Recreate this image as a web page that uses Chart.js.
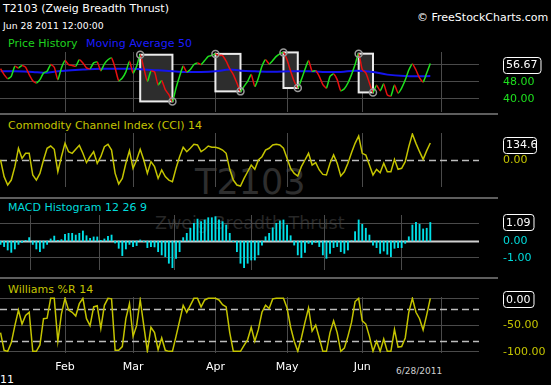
<!DOCTYPE html>
<html><head><meta charset="utf-8">
<script src="https://cdn.jsdelivr.net/npm/chart.js@4.4.0/dist/chart.umd.min.js"></script>
<style>
html,body{margin:0;padding:0;background:#000;width:551px;height:385px;overflow:hidden;}
body{position:relative;font-family:"DejaVu Sans",sans-serif;}
.t{position:absolute;white-space:nowrap;line-height:1;}
canvas{position:absolute;left:0;display:block;z-index:1;}
.sep{position:absolute;left:0;width:498px;height:2px;background:#5e5e5e;z-index:1;}
.wm{position:absolute;white-space:nowrap;line-height:1;z-index:0;}
</style></head><body>

<div class="wm" style="left:195px;top:165px;font-size:35px;color:#2e2e2e;">T2103</div>
<div class="wm" style="left:155px;top:215px;font-size:17.5px;color:#272727;">Zweig Breadth Thrust</div>

<div class="t" style="left:3px;top:3px;font-size:11px;color:#fff;">T2103 (Zweig Breadth Thrust)</div>
<div class="t" style="left:3px;top:20.5px;font-size:9.3px;color:#fff;">Jun 28 2011 12:00:00</div>
<div class="t" style="left:417px;top:11.7px;font-size:11px;color:#fff;">© FreeStockCharts.com</div>
<div class="t" style="left:8px;top:38px;font-size:11px;color:#1fd21f;">Price History</div>
<div class="t" style="left:86px;top:38px;font-size:11px;color:#1c1cff;">Moving Average 50</div>
<div class="t" style="left:8px;top:119.7px;font-size:11px;color:#c4c400;">Commodity Channel Index (CCI) 14</div>
<div class="t" style="left:8px;top:202.2px;font-size:11px;color:#00dcdc;">MACD Histogram 12 26 9</div>
<div class="t" style="left:8px;top:283.7px;font-size:11px;color:#c4c400;">Williams %R 14</div>
<div class="t" style="left:396px;top:367.4px;font-size:9px;color:#cfcfcf;">6/28/2011</div>
<div class="t" style="left:0px;top:373.5px;font-size:11px;color:#fff;">11</div>

<div class="sep" style="top:113px;"></div>
<div class="sep" style="top:197px;"></div>
<div class="sep" style="top:277px;"></div>

<canvas id="cPrice" width="551" height="74" style="top:44px"></canvas>
<canvas id="cCci" width="551" height="72" style="top:126px"></canvas>
<canvas id="cMacd" width="551" height="76" style="top:200px"></canvas>
<canvas id="cWill" width="551" height="100" style="top:282px"></canvas>

<script>
// ---- data (trading-day index: 0 = Jan 3 2011) ----
const firstDay = 2;
const monthStarts = [20, 39, 62, 82, 103, 125];
const monthLabels = ['Feb', 'Mar', 'Apr', 'May', 'Jun', ''];

const priceValues = [
  54.2,51.4,49.5,50.6,55.4,54.6,55.8,54.9,51.4,48.5,
  47.4,49.0,52.2,53.0,56.2,54.9,49.0,54.6,58.1,56.2,
  55.8,55.4,58.5,57.0,54.6,54.2,57.0,57.4,53.3,56.5,
  58.5,59.3,54.6,48.5,49.8,52.7,57.8,52.2,55.4,60.9,
  54.6,48.2,53.0,52.7,46.6,48.5,44.2,41.8,38.6,45.0,
  50.6,55.4,52.7,53.8,56.2,57.0,56.2,58.1,60.1,60.6,
  61.3,60.6,60.5,57.8,54.2,51.4,47.4,43.4,45.8,48.2,
  51.4,45.8,49.8,55.4,58.5,56.5,58.1,60.1,61.3,62.0,
  58.5,53.0,48.2,45.0,49.0,53.8,58.1,53.0,53.3,50.6,
  46.6,45.0,50.6,51.7,49.0,43.7,44.7,47.4,51.4,56.2,
  61.4,53.8,52.2,47.4,42.9,46.3,43.7,46.9,41.7,41.2,
  46.4,42.6,45.0,48.8,53.6,56.5,53.6,49.8,47.9,52.2,
  56.67
];
const maDays   = [2,6,11,14,17,20,25,30,35,39,44,48,53,58,62,66,69,73,78,83,88,92,97,101,106,110,115,119,122];
const maValues = [53.0,53.0,52.7,52.3,52.8,53.3,53.8,54.2,54.2,54.2,53.6,53.3,52.7,52.7,53.0,53.8,53.3,53.0,52.8,53.0,53.0,52.7,52.7,53.3,52.7,51.4,50.7,50.6,50.7];
const boxStarts = [41, 62, 81, 102];
const boxEnds   = [50, 69, 85, 106];

const cciValues = [
  0,-132,-198,-159,-53,93,13,53,53,-119,
  -159,-106,0,93,111,85,-93,26,132,66,
  53,85,116,53,-21,26,66,-26,26,106,
  124,79,-106,-190,-146,-26,74,-66,0,85,
  0,-106,-13,-53,-146,-79,-132,-159,-172,-66,
  26,101,66,93,124,119,66,85,111,101,
  101,93,79,53,-74,-159,-198,-206,-146,-93,
  -40,-74,0,26,79,93,119,124,119,93,
  13,-66,-106,-127,-53,0,53,-40,-21,-79,
  -114,-119,-26,40,-26,-127,-93,-26,58,132,
  190,53,40,-40,-119,-74,-101,-26,-93,-93,
  5,-74,-66,-13,106,206,132,66,5,74,
  134.67
];

const macdValues = [
  -0.2,-0.33,-0.53,-0.67,-0.47,-0.2,-0.08,0.04,0.2,-0.2,
  -0.47,-0.63,-0.43,-0.2,0.12,0.29,0.04,0.08,0.39,0.45,
  0.45,0.35,0.45,0.59,0.31,0.16,0.24,0.24,0.04,0.12,
  0.27,0.35,-0.12,-0.43,-0.86,-0.47,-0.2,-0.33,-0.27,0.06,
  -0.04,-0.39,-0.33,-0.35,-0.63,-0.82,-0.92,-1.31,-1.57,-1.02,
  -0.63,0.2,0.45,0.75,1.04,1.29,1.14,1.24,1.37,1.37,
  1.43,1.24,1.14,0.94,0.45,-0.04,-0.63,-1.31,-1.57,-1.31,
  -1.12,-1.12,-0.82,-0.24,0.25,0.45,0.78,1.04,1.18,1.24,
  0.94,0.31,-0.24,-0.82,-0.98,-0.67,-0.14,-0.2,-0.08,-0.33,
  -0.82,-1.02,-0.73,-0.39,-0.33,-0.63,-0.73,-0.53,0.02,0.55,
  1.24,0.98,0.75,0.35,-0.24,-0.39,-0.73,-0.59,-0.78,-0.92,
  -0.43,-0.39,-0.39,-0.14,0.25,0.94,1.10,0.98,0.71,0.75,
  1.09
];

const willValues = [
  -64,-97,-99,-83,-51,-22,-48,-32,-26,-99,
  -99,-87,-38,-37,0,0,-80,-29,0,-22,
  -26,-33,-10,0,-38,-51,-16,-14,-56,-13,
  0,-1,-97,-97,-90,-38,-10,-71,-51,-3,
  -51,-99,-54,-64,-96,-74,-97,-99,-99,-71,
  -42,-13,-26,-13,0,0,-16,-3,0,0,
  0,-3,-12,-16,-64,-99,-99,-99,-88,-77,
  -54,-80,-58,-26,-13,-19,-1,0,0,0,
  -18,-54,-80,-99,-74,-45,-18,-61,-50,-74,
  -99,-99,-64,-42,-64,-99,-93,-71,-45,-6,
  0,-42,-48,-71,-99,-80,-99,-76,-99,-99,
  -58,-91,-90,-74,-26,0,-26,-38,-59,-31,
  0
];

// ---- helpers ----
const X_MIN = 1.85, X_MAX = 135.6;
const FONT = '"DejaVu Sans", sans-serif';
const GRID = '#4a4a4a';
const pts = arr => arr.map((v, k) => ({x: firstDay + k, y: v}));

function xAxis(showTicks) {
  return {
    type: 'linear', min: X_MIN, max: X_MAX, display: true,
    afterBuildTicks: s => { s.ticks = monthStarts.map(v => ({value: v})); },
    grid: {color: GRID, lineWidth: 1, drawTicks: false},
    border: {display: false},
    ticks: {display: showTicks, color: '#fff', padding: 7.5, autoSkip: false, maxRotation: 0,
      font: {family: FONT, size: 11},
      callback: v => monthLabels[monthStarts.indexOf(v)] || ''}
  };
}
function yAxis(min, max, gridVals) {
  return {
    type: 'linear', min, max, position: 'right', display: true,
    afterBuildTicks: s => { s.ticks = gridVals.map(v => ({value: v})); },
    grid: {display: gridVals.length > 0, color: GRID, lineWidth: 1, drawTicks: false},
    border: {display: false},
    ticks: {display: false}
  };
}

const deco = {
  id: 'deco',
  beforeDatasetsDraw(chart, args, o) {
    const {ctx, chartArea: a, scales: {x, y}} = chart;
    ctx.save();
    (o.lines || []).forEach(d => {
      const py = Math.round(y.getPixelForValue(d.value)) + 0.5;
      ctx.strokeStyle = d.color; ctx.lineWidth = d.width || 1;
      ctx.setLineDash(d.dash || []);
      ctx.beginPath(); ctx.moveTo(a.left, py); ctx.lineTo(a.right, py); ctx.stroke();
    });
    ctx.setLineDash([]);
    (o.boxes || []).forEach(b => {
      const x1 = x.getPixelForValue(b[0]), x2 = x.getPixelForValue(b[1]);
      const y1 = y.getPixelForValue(b[2]), y2 = y.getPixelForValue(b[3]);
      ctx.fillStyle = '#2d2d2d';
      ctx.fillRect(x1, y1, x2 - x1, y2 - y1);
      ctx.strokeStyle = '#ececec'; ctx.lineWidth = 2;
      ctx.strokeRect(x1, y1, x2 - x1, y2 - y1);
    });
    ctx.restore();
  },
  afterDatasetsDraw(chart, args, o) {
    const {ctx, scales: {x, y}} = chart;
    ctx.save();
    (o.boxes || []).forEach(b => {
      [[b[0], b[2]], [b[1], b[3]]].forEach(p => {
        ctx.beginPath();
        ctx.arc(x.getPixelForValue(p[0]), y.getPixelForValue(p[1]), 3.5, 0, Math.PI * 2);
        ctx.strokeStyle = '#9a9a9a'; ctx.lineWidth = 1.5; ctx.stroke();
      });
    });
    ctx.restore();
  },
  afterDraw(chart, args, o) {
    const {ctx, scales: {y}} = chart;
    ctx.save();
    ctx.font = '11px ' + FONT; ctx.textBaseline = 'middle'; ctx.textAlign = 'left';
    (o.labels || []).forEach(l => {
      const py = y.getPixelForValue(l.value) + (l.dy || 0);
      if (l.boxed) {
        const w = l.boxW || (ctx.measureText(l.text).width + 6);
        ctx.beginPath(); ctx.roundRect(503.5, Math.round(py - 8) + 0.5, w, 16, 3);
        ctx.fillStyle = '#000'; ctx.fill();
        ctx.save(); ctx.clip();
        ctx.fillStyle = '#fff'; ctx.fillText(l.text, 506, py + 0.5);
        ctx.restore();
        ctx.beginPath(); ctx.roundRect(503.5, Math.round(py - 8) + 0.5, w, 16, 3);
        ctx.strokeStyle = '#fff'; ctx.lineWidth = 1; ctx.stroke();
      } else {
        ctx.fillStyle = l.color; ctx.fillText(l.text, 503, py + 0.5);
      }
    });
    ctx.restore();
  }
};
Chart.register(deco);

function baseOptions(pad, scales, decoOpts) {
  return {
    responsive: false, animation: false, devicePixelRatio: 1,
    layout: {padding: {left: 0, right: 72, top: pad[0], bottom: pad[1]}},
    plugins: {legend: {display: false}, tooltip: {enabled: false}, deco: decoOpts},
    scales, events: []
  };
}

// ---- Price panel ----
const GREEN = '#1ee01e', RED = '#e81010';
const boxes = boxStarts.map((s, k) => [s, boxEnds[k], priceValues[s - firstDay], priceValues[boxEnds[k] - firstDay]]);
new Chart(document.getElementById('cPrice'), {
  type: 'line',
  data: {datasets: [
    {data: pts(priceValues), borderColor: GREEN, borderWidth: 1.5, pointRadius: 0, tension: 0.2,
     segment: {borderColor: c => c.p1.parsed.y >= c.p0.parsed.y ? GREEN : RED}},
    {data: maDays.map((d, k) => ({x: d, y: maValues[k]})), borderColor: '#1414ee', borderWidth: 2, pointRadius: 0, tension: 0.4}
  ]},
  options: baseOptions([8, 6], {x: xAxis(false), y: yAxis(33.55, 62.2, [40, 48, 56])}, {
    boxes,
    labels: [
      {value: 56.67, text: '56.67', boxed: true, dy: 1.5},
      {value: 48, text: '48.00', color: GREEN},
      {value: 40, text: '40.00', color: GREEN}
    ]
  })
});

// ---- CCI panel ----
const YEL = '#c4c400';
new Chart(document.getElementById('cCci'), {
  type: 'line',
  data: {datasets: [{data: pts(cciValues), borderColor: YEL, borderWidth: 1.5, pointRadius: 0, tension: 0}]},
  options: baseOptions([7, 11], {x: xAxis(false), y: yAxis(-214, 214, [])}, {
    lines: [{value: 0, color: '#bdbdbd', dash: [7, 4], width: 1.5}],
    labels: [
      {value: 134.67, text: '134.67', boxed: true, boxW: 33, dy: 1.5},
      {value: 0, text: '0.00', color: YEL}
    ]
  })
});

// ---- MACD panel ----
const CYAN = '#00e0e8';
new Chart(document.getElementById('cMacd'), {
  type: 'bar',
  data: {datasets: [{data: pts(macdValues), backgroundColor: CYAN, barThickness: 1.2, borderWidth: 0}]},
  options: baseOptions([15, 6], {x: Object.assign(xAxis(false), {offset: false}), y: yAxis(-1.706, 1.529, [-1, 1])}, {
    lines: [{value: 0, color: '#d0d0d0', width: 2}],
    labels: [
      {value: 1.09, text: '1.09', boxed: true},
      {value: 0, text: '0.00', color: '#00dcdc'},
      {value: -1, text: '-1.00', color: '#00dcdc'}
    ]
  })
});

// ---- Williams %R panel ----
new Chart(document.getElementById('cWill'), {
  type: 'line',
  data: {datasets: [{data: pts(willValues), borderColor: YEL, borderWidth: 1.5, pointRadius: 0, tension: 0}]},
  options: baseOptions([15, 1.1], {x: xAxis(true), y: yAxis(-101.5, 2.5, [0, -50, -100])}, {
    lines: [{value: -20, color: '#bdbdbd', dash: [7, 4], width: 1.5}, {value: -80, color: '#bdbdbd', dash: [7, 4], width: 1.5}],
    labels: [
      {value: 0, text: '0.00', boxed: true, dy: 1},
      {value: -50, text: '-50.00', color: YEL},
      {value: -100, text: '-100.00', color: YEL}
    ]
  })
});
</script>
</body></html>
